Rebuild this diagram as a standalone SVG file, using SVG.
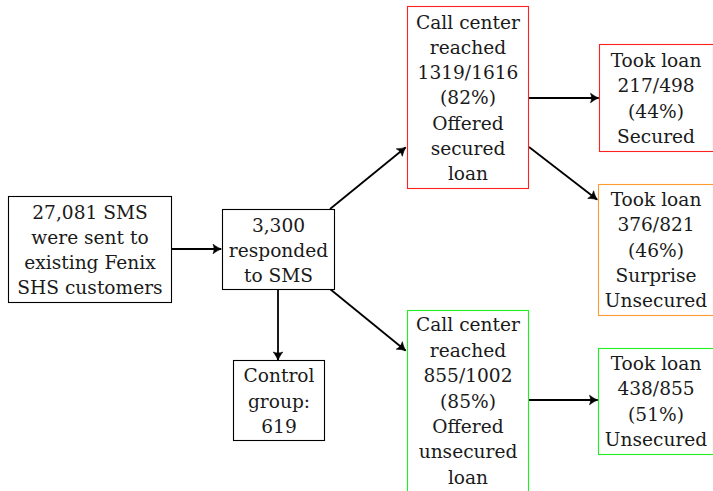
<svg xmlns="http://www.w3.org/2000/svg" width="713" height="491" viewBox="0 0 713 491">
  <style>
    .bg { fill: #ffffff; }
    .box { fill: #ffffff; stroke-width: 1.1; }
    .black { stroke: #000000; }
    .red { stroke: #ff2020; }
    .orange { stroke: #ff9a30; }
    .green { stroke: #20f020; }
    text { font-family: "DejaVu Serif", serif; font-size: 18.6px; fill: #1a1a1a; text-anchor: middle; }
    .edge { fill: none; stroke: #000000; stroke-width: 1.8; marker-end: url(#arrow); }
  </style>
  <defs>
    <!-- curved, filled arrow tip; the tip sits on the end of the line -->
    <marker id="arrow" markerUnits="userSpaceOnUse" viewBox="-10 -6 11 12" markerWidth="11" markerHeight="12" refX="0" refY="0" orient="auto" overflow="visible">
      <path d="M0.5,0 C-2,-0.8 -5,-2.5 -8,-4.8 C-6.6,-1.6 -6.6,1.6 -8,4.8 C-5,2.5 -2,0.8 0.5,0 Z" fill="#000000" stroke="#000000" stroke-width="0.6" stroke-linejoin="round"/>
    </marker>
  </defs>
  <rect class="bg" x="0" y="0" width="713" height="491"/>

  <g id="connectors">
    <line class="edge" x1="172" y1="249" x2="221" y2="249"/>
    <line class="edge" x1="278" y1="290" x2="278" y2="360"/>
    <line class="edge" x1="330" y1="209" x2="405.5" y2="147.5"/>
    <line class="edge" x1="330" y1="289" x2="405.5" y2="350.5"/>
    <line class="edge" x1="529" y1="98" x2="598.5" y2="98"/>
    <line class="edge" x1="529" y1="147" x2="597" y2="199.5"/>
    <line class="edge" x1="529" y1="400" x2="597.5" y2="400"/>
  </g>

  <g id="sms-sent">
    <rect class="box black" x="8.5" y="196.5" width="163" height="106"/>
    <text x="90" y="219">27,081 SMS</text>
    <text x="90" y="244">were sent to</text>
    <text x="90" y="269">existing Fenix</text>
    <text x="90" y="294">SHS customers</text>
  </g>

  <g id="responded">
    <rect class="box black" x="222.5" y="209.5" width="112" height="80"/>
    <text x="278.5" y="232">3,300</text>
    <text x="278.5" y="257">responded</text>
    <text x="278.5" y="282">to SMS</text>
  </g>

  <g id="control">
    <rect class="box black" x="233.5" y="360.5" width="91" height="80"/>
    <text x="279" y="382">Control</text>
    <text x="279" y="408">group:</text>
    <text x="279" y="433">619</text>
  </g>

  <g id="call-secured">
    <rect class="box red" x="407.5" y="6.5" width="121" height="182"/>
    <text x="468" y="29">Call center</text>
    <text x="468" y="54">reached</text>
    <text x="468" y="79">1319/1616</text>
    <text x="468" y="104">(82%)</text>
    <text x="468" y="130">Offered</text>
    <text x="468" y="155">secured</text>
    <text x="468" y="180">loan</text>
  </g>

  <g id="took-secured">
    <rect class="box red" x="599.5" y="44.5" width="114" height="107"/>
    <text x="656" y="67">Took loan</text>
    <text x="656" y="92">217/498</text>
    <text x="656" y="118">(44%)</text>
    <text x="656" y="143">Secured</text>
  </g>

  <g id="took-surprise">
    <rect class="box orange" x="598.5" y="184.5" width="115" height="131"/>
    <text x="656" y="206">Took loan</text>
    <text x="656" y="231">376/821</text>
    <text x="656" y="257">(46%)</text>
    <text x="656" y="282">Surprise</text>
    <text x="656" y="307">Unsecured</text>
  </g>

  <g id="call-unsecured">
    <rect class="box green" x="407.5" y="310.5" width="121" height="190"/>
    <text x="468" y="331">Call center</text>
    <text x="468" y="357">reached</text>
    <text x="468" y="382">855/1002</text>
    <text x="468" y="408">(85%)</text>
    <text x="468" y="433">Offered</text>
    <text x="468" y="458">unsecured</text>
    <text x="468" y="484">loan</text>
  </g>

  <g id="took-unsecured">
    <rect class="box green" x="598.5" y="348.5" width="115" height="106"/>
    <text x="656" y="370">Took loan</text>
    <text x="656" y="395">438/855</text>
    <text x="656" y="421">(51%)</text>
    <text x="656" y="446">Unsecured</text>
  </g>
</svg>
